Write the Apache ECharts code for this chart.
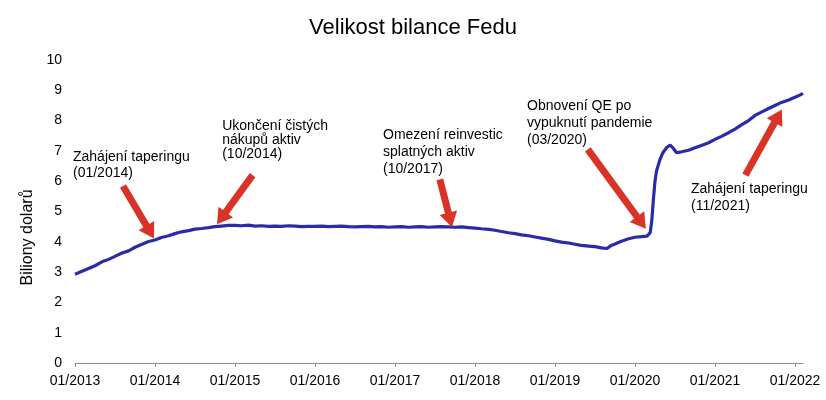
<!DOCTYPE html>
<html>
<head>
<meta charset="utf-8">
<script src="https://cdn.jsdelivr.net/npm/echarts@6/dist/echarts.min.js"></script>
<style>
  html, body { margin: 0; padding: 0; background: #fff; }
  #chart { width: 826px; height: 400px; }
</style>
</head>
<body>
<div id="chart"></div>
<script>
// time in decimal years, balance in trillions of dollars
const years = [
  2013.0, 2013.08, 2013.17, 2013.25, 2013.33, 2013.42, 2013.5, 2013.58, 2013.67, 2013.75, 2013.83, 2013.92,
  2014.0, 2014.08, 2014.17, 2014.25, 2014.33, 2014.42, 2014.5, 2014.58, 2014.67, 2014.75, 2014.83, 2014.92,
  2015.0, 2015.08, 2015.17, 2015.25, 2015.33, 2015.42, 2015.5, 2015.58, 2015.67, 2015.75, 2015.83, 2015.92,
  2016.0, 2016.08, 2016.17, 2016.25, 2016.33, 2016.42, 2016.5, 2016.58, 2016.67, 2016.75, 2016.83, 2016.92,
  2017.0, 2017.08, 2017.17, 2017.25, 2017.33, 2017.42, 2017.5, 2017.58, 2017.67, 2017.75, 2017.83, 2017.92,
  2018.0, 2018.08, 2018.17, 2018.25, 2018.33, 2018.42, 2018.5, 2018.58, 2018.67, 2018.75, 2018.83, 2018.92,
  2019.0, 2019.08, 2019.17, 2019.25, 2019.33, 2019.42, 2019.5, 2019.58, 2019.65, 2019.71, 2019.75, 2019.83, 2019.92,
  2020.0, 2020.08, 2020.15, 2020.19, 2020.21, 2020.23, 2020.25, 2020.27, 2020.31, 2020.35, 2020.4, 2020.44, 2020.48, 2020.52,
  2020.58, 2020.67, 2020.75, 2020.83, 2020.92,
  2021.0, 2021.08, 2021.17, 2021.25, 2021.33, 2021.42, 2021.5, 2021.58, 2021.67, 2021.75, 2021.83, 2021.92,
  2022.0, 2022.06, 2022.1
];
const balance = [
  2.93, 3.02, 3.12, 3.21, 3.33, 3.42, 3.52, 3.62, 3.70, 3.82, 3.91, 4.01,
  4.06, 4.14, 4.20, 4.27, 4.33, 4.37, 4.42, 4.44, 4.47, 4.50, 4.52, 4.54,
  4.54, 4.53, 4.55, 4.52, 4.53, 4.51, 4.52, 4.51, 4.53, 4.52, 4.50, 4.51,
  4.51, 4.52, 4.50, 4.51, 4.52, 4.50, 4.49, 4.50, 4.51, 4.49, 4.50, 4.48,
  4.49, 4.50, 4.48, 4.49, 4.50, 4.48, 4.49, 4.50, 4.49, 4.48, 4.49, 4.47,
  4.45, 4.43, 4.41, 4.38, 4.34, 4.30, 4.27, 4.23, 4.20, 4.16, 4.12, 4.08,
  4.03, 3.99, 3.96, 3.92, 3.88, 3.86, 3.84, 3.80, 3.78, 3.89, 3.93, 4.02, 4.10,
  4.15, 4.17, 4.19, 4.30, 4.70, 5.40, 6.00, 6.35, 6.70, 6.95, 7.12, 7.19, 7.08, 6.94,
  6.97, 7.02, 7.10, 7.18, 7.27,
  7.38, 7.48, 7.60, 7.72, 7.86, 8.00, 8.17, 8.28, 8.40, 8.50, 8.60, 8.68,
  8.77, 8.84, 8.90
];
const yearTicks = [2013, 2014, 2015, 2016, 2017, 2018, 2019, 2020, 2021, 2022];

// annotations: text, anchor (year, value of first line centre), line height
const noteTexts = [
  'Zahájení taperingu\n(01/2014)',
  'Ukončení čistých\nnákupů aktiv\n(10/2014)',
  'Omezení reinvestic\nsplatných aktiv\n(10/2017)',
  'Obnovení QE po\nvypuknutí pandemie\n(03/2020)',
  'Zahájení taperingu\n(11/2021)'
];
const noteAt = [[2012.975, 6.81], [2014.84, 7.83], [2016.85, 7.52], [2018.65, 8.48], [2020.7, 5.74]];
const noteLineHeight = [16, 14, 17, 17, 17];
// arrows: from -> to, in data units
const arrowFrom = [[2013.6, 5.84], [2015.22, 6.2], [2017.56, 6.06], [2019.41, 7.05], [2021.38, 6.2]];
const arrowTo = [[2013.94, 4.32], [2014.83, 4.78], [2017.69, 4.72], [2020.08, 4.63], [2021.79, 8.15]];

const chart = echarts.init(document.getElementById('chart'));
const font = 'Liberation Sans, Arial, sans-serif';

const option = {
  backgroundColor: '#ffffff',
  animation: false,
  title: {
    text: 'Velikost bilance Fedu',
    left: 'center',
    top: 12,
    textStyle: { fontFamily: font, fontSize: 22, fontWeight: 'normal', color: '#000' }
  },
  grid: { left: 75, right: 23, top: 60, bottom: 37 },
  xAxis: {
    type: 'value',
    min: 2013,
    max: 2022.1,
    interval: 1,
    splitLine: { show: false },
    axisLine: { lineStyle: { color: '#8c8c8c', width: 1 } },
    axisTick: { show: true, length: 4, customValues: yearTicks, lineStyle: { color: '#8c8c8c' } },
    axisLabel: {
      customValues: yearTicks,
      margin: 11,
      color: '#000',
      fontFamily: font,
      fontSize: 14,
      formatter: v => '01/' + Math.round(v)
    }
  },
  yAxis: {
    type: 'value',
    min: 0,
    max: 10,
    interval: 1,
    name: 'Biliony dolarů',
    nameLocation: 'middle',
    nameGap: 36,
    nameTextStyle: { fontFamily: font, fontSize: 16, color: '#000', padding: [0, 52, 0, 0] },
    splitLine: { show: false },
    axisLine: { show: false },
    axisTick: { show: false },
    axisLabel: { margin: 13, color: '#000', fontFamily: font, fontSize: 14 }
  },
  series: [
    {
      type: 'line',
      data: years.map((y, i) => [y, balance[i]]),
      showSymbol: false,
      smooth: false,
      lineStyle: { color: '#2b2ba5', width: 3.2 },
      z: 2,
      markLine: {
        silent: true,
        symbol: ['none', 'triangle'],
        symbolSize: [18, 15],
        label: { show: false },
        lineStyle: { color: '#d93327', width: 7, type: 'solid' },
        itemStyle: { color: '#d93327' },
        data: arrowFrom.map((f, i) => [
          { coord: f },
          { coord: arrowTo[i] }
        ])
      }
    }
  ]
};

chart.setOption(option);

// annotation texts placed through the chart's own scales
const graphics = noteTexts.map((t, i) => {
  const p = chart.convertToPixel({ gridIndex: 0 }, noteAt[i]);
  return {
    type: 'text',
    x: p[0],
    y: p[1] - noteLineHeight[i] / 2,
    style: {
      text: t,
      fill: '#000',
      font: '14px ' + font,
      lineHeight: noteLineHeight[i],
      align: 'left',
      verticalAlign: 'top'
    },
    z: 10
  };
});
chart.setOption({ graphic: graphics });
</script>
</body>
</html>
